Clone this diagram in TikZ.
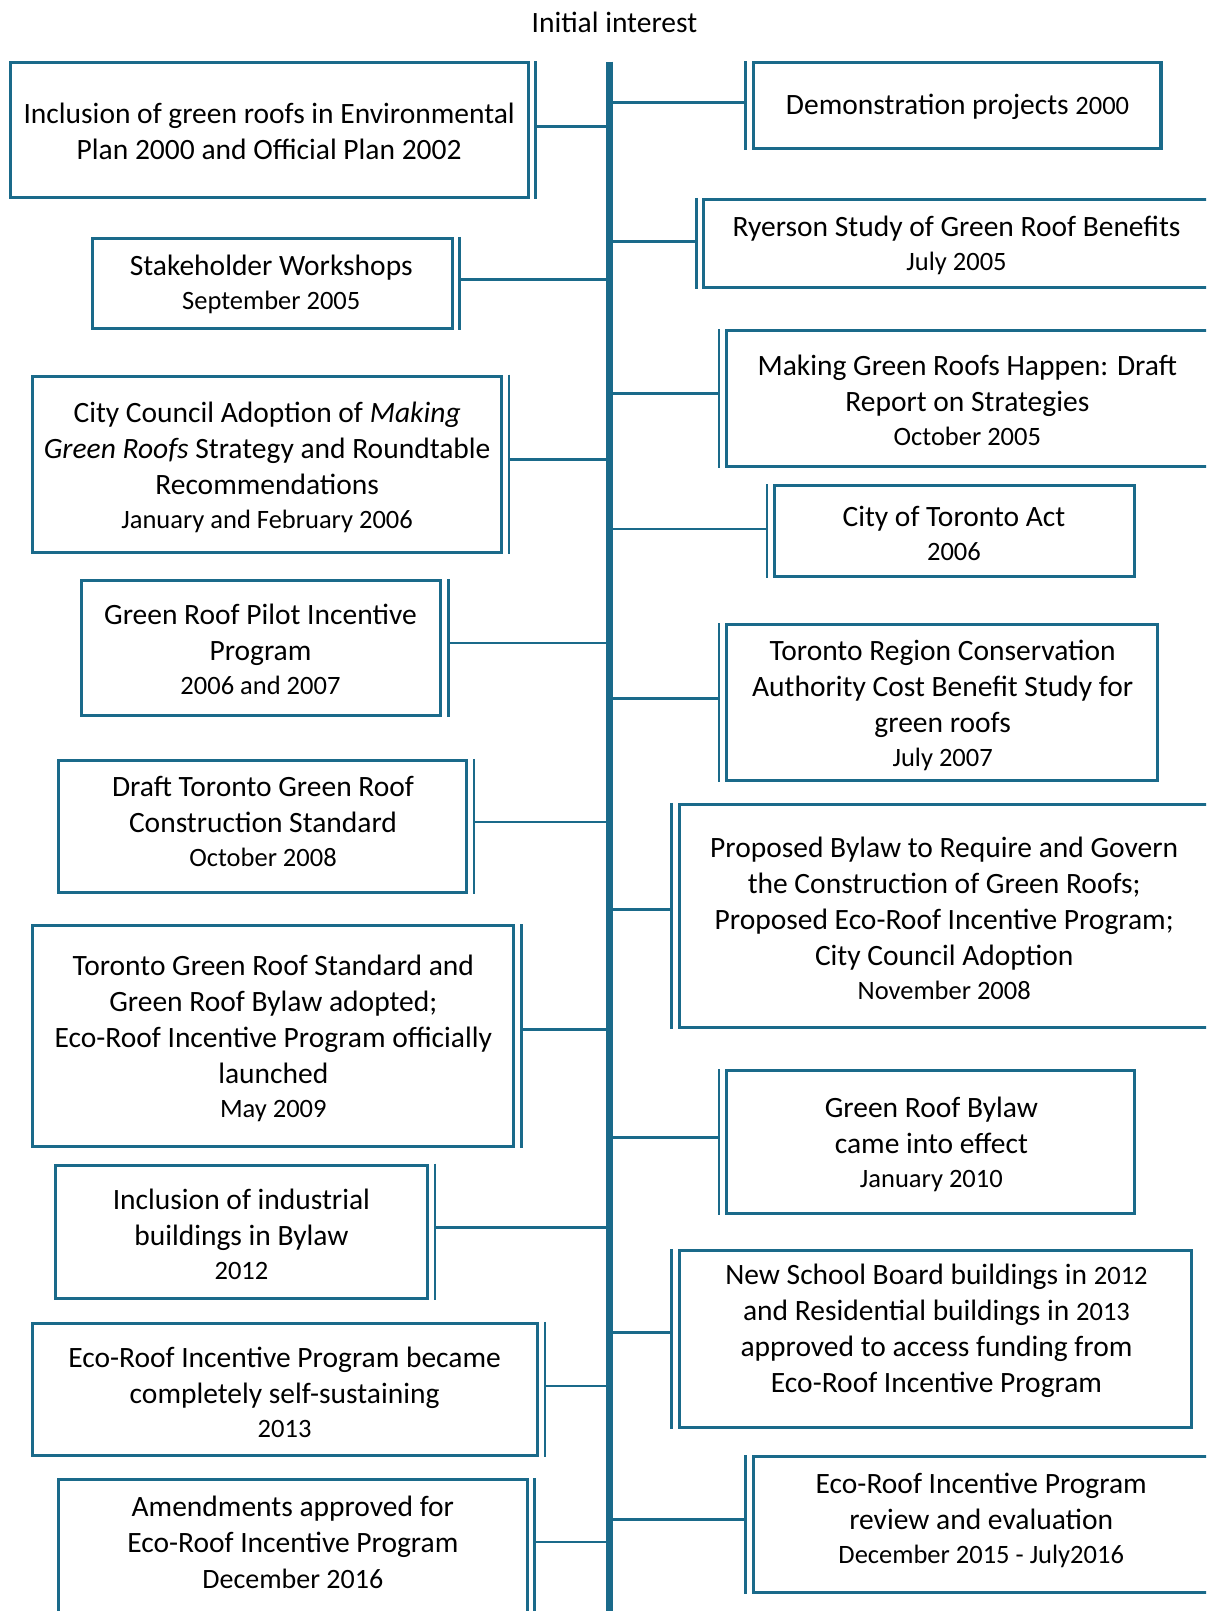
\documentclass[tikz,border=0pt]{standalone}
\usepackage{fontspec}
\setmainfont{Carlito}
\usetikzlibrary{fit}
\definecolor{tlblue}{HTML}{1A6A8A}
\newcommand\datef[1]{{\fontsize{26.5}{30}\selectfont #1}}
% name, corner1, corner2, text position, connector y, text
\newcommand\evL[6]{%
  \node[box,fit={#2 #3}] (#1) {};
  \node[txt] (#1t) at #4 {#6};
  \coordinate (#1b) at ([xshift=6pt]#1.east);
  \draw[bracket] (#1b |- #1.north) -- (#1b |- #1.south);
  \draw[conn] (#1b |- 0,#5) -- (spine |- 0,#5);}
\newcommand\evR[6]{%
  \node[box,fit={#2 #3}] (#1) {};
  \node[txt] (#1t) at #4 {#6};
  \coordinate (#1b) at ([xshift=-6pt]#1.west);
  \draw[bracket] (#1b |- #1.north) -- (#1b |- #1.south);
  \draw[conn] (#1b |- 0,#5) -- (spine |- 0,#5);}
\begin{document}
\begin{tikzpicture}[x=1.0273pt,y=-1.0273pt,
  box/.style={draw=tlblue, line width=3pt, inner sep=0pt},
  bracket/.style={draw=tlblue, line width=2.6pt},
  conn/.style={draw=tlblue, line width=2.6pt},
  spineline/.style={draw=tlblue, line width=6.5pt},
  txt/.style={align=center, font=\fontsize{29.5}{36}\selectfont, inner sep=0pt, text=black}]
\clip (0,0) rectangle (1174,1568);
\fill[white] (0,0) rectangle (1174,1568);
\node[font=\fontsize{29.5}{34}\selectfont, inner sep=0pt] (title) at (598,22) {Initial interest};
\coordinate (spine) at (593,60);
\coordinate (spineend) at (593,1590);
\draw[spineline] (spine) -- (spineend);

\evL{l1}{(10,61)}{(514,192)}{(262,127.5)}{123}{Inclusion of green roofs in Environmental\\Plan 2000 and Official Plan 2002}
\evL{l2}{(90,232)}{(440,320)}{(264,277)}{272}{Stakeholder Workshops\\[-2pt]\datef{September 2005}}
\evL{l3}{(32,366)}{(488,538)}{(260,454.5)}{447}{City Council Adoption of \textit{Making}\\\textit{Green Roofs} Strategy and Roundtable\\Recommendations\\[-2pt]\datef{January and February 2006}}
\evL{l4}{(79,565)}{(429,696)}{(253.5,632)}{626}{Green Roof Pilot Incentive\\Program\\[-2pt]\datef{2006 and 2007}}
\evL{l5}{(57,740)}{(454,869)}{(256,800)}{800}{Draft Toronto Green Roof\\Construction Standard\\[-2pt]\datef{October 2008}}
\evL{l6}{(32,901)}{(500,1116)}{(266,1011)}{1002}{Toronto Green Roof Standard and\\Green Roof Bylaw adopted;\\Eco-Roof Incentive Program officially\\launched\\[-2pt]\datef{May 2009}}
\evL{l7}{(54,1134)}{(416,1264)}{(235,1201)}{1195}{Inclusion of industrial\\buildings in Bylaw\\[-2pt]\datef{2012}}
\evL{l8}{(32,1288)}{(523,1417)}{(277,1355)}{1349}{Eco-Roof Incentive Program became\\completely self-sustaining\\[-2pt]\datef{2013}}
\evL{l9}{(57,1440)}{(513,1600)}{(285,1501.5)}{1501}{Amendments approved for\\Eco-Roof Incentive Program\\{\fontsize{28}{30}\selectfont December 2016}}

\evR{r1}{(733,61)}{(1130,145)}{(932,104)}{100}{Demonstration projects \datef{2000}}
\evR{r2}{(685,194)}{(1180,280)}{(931,239)}{235}{Ryerson Study of Green Roof Benefits\\[-2pt]\datef{July 2005}}
\evR{r3}{(707,322)}{(1180,454)}{(941.5,390)}{383}{Making Green Roofs Happen: Draft\\Report on Strategies\\[-2pt]\datef{October 2005}}
\evR{r4}{(754,473)}{(1104,561)}{(928.5,519.5)}{515}{City of Toronto Act\\[-2pt]\datef{2006}}
\evR{r5}{(707,608)}{(1127,760)}{(917.5,686.5)}{680}{Toronto Region Conservation\\Authority Cost Benefit Study for\\green roofs\\[-2pt]\datef{July 2007}}
\evR{r6}{(661,783)}{(1180,1000)}{(919,894)}{885}{Proposed Bylaw to Require and Govern\\the Construction of Green Roofs;\\Proposed Eco-Roof Incentive Program;\\City Council Adoption\\[-2pt]\datef{November 2008}}
\evR{r7}{(707,1042)}{(1104,1181)}{(906.5,1113.5)}{1107}{Green Roof Bylaw\\came into effect\\[-2pt]\datef{January 2010}}
\evR{r8}{(661,1217)}{(1160,1389)}{(911.5,1295.5)}{1297}{New School Board buildings in \datef{2012}\\and Residential buildings in \datef{2013}\\approved to access funding from\\Eco-Roof Incentive Program}
\evR{r9}{(733,1418)}{(1180,1550)}{(955,1479.5)}{1479}{Eco-Roof Incentive Program\\review and evaluation\\[-2pt]\datef{December 2015 - July2016}}
\end{tikzpicture}
\end{document}
